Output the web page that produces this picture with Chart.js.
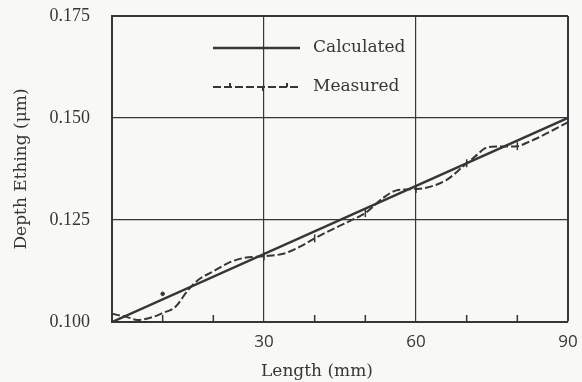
<!DOCTYPE html>
<html>
<head>
<meta charset="utf-8">
<script src="https://cdn.jsdelivr.net/npm/chart.js@4.4.0/dist/chart.umd.min.js"></script>
<style>
  html, body { margin: 0; padding: 0; background: #f8f8f6; }
  #wrap { width: 582px; height: 382px; }
</style>
</head>
<body>
<div id="wrap"><canvas id="depthChart" width="582" height="382"></canvas></div>
<script>
// Length along the sample (mm) and etching depth (um)
const calcLengths = [0, 90];
const calcDepths = [0.100, 0.150];

const measLengths = [0, 3, 5, 8, 10, 12.5, 15, 17, 20, 23, 26, 30, 34, 37, 40, 43, 47, 50, 53.5, 56, 60, 62, 66, 69, 70, 72, 73.5, 76, 80, 82, 84, 87, 90];
const measDepths = [0.1020, 0.1012, 0.1005, 0.1012, 0.1022, 0.1037, 0.1078, 0.1103, 0.1124, 0.1145, 0.1157, 0.1161, 0.1168, 0.1184, 0.1205, 0.1224, 0.1248, 0.1267, 0.1304, 0.1322, 0.1326, 0.1329, 0.1348, 0.1378, 0.1389, 0.1409, 0.1425, 0.1430, 0.1431, 0.1440, 0.1451, 0.1470, 0.1490];
const markedLengths = [30, 40, 50, 60, 70, 80];

const strayLengths = [10];
const strayDepths = [0.1069];

const xTickValues = [0, 30, 60, 90];
const yTickValues = [0.100, 0.125, 0.150, 0.175];
const minorTicks = [10, 20, 40, 50, 70, 80];

const ink = '#363636';

const overlay = {
  id: 'overlay',
  afterDatasetsDraw(chart) {
    const { ctx, chartArea } = chart;
    const x = chart.scales.x;
    ctx.save();
    ctx.strokeStyle = ink;
    ctx.lineWidth = 1.5;
    // small upward ticks on the length axis
    minorTicks.forEach(v => {
      const px = x.getPixelForValue(v);
      ctx.beginPath();
      ctx.moveTo(px, chartArea.bottom);
      ctx.lineTo(px, chartArea.bottom - 7);
      ctx.stroke();
    });

    // legend
    const lx0 = chartArea.left + 101, lx1 = chartArea.left + 188, tx = chartArea.left + 201;
    const y1 = chartArea.top + 32, y2 = chartArea.top + 71;
    ctx.lineWidth = 2.5;
    ctx.beginPath(); ctx.moveTo(lx0, y1); ctx.lineTo(lx1, y1); ctx.stroke();
    ctx.lineWidth = 2;
    ctx.setLineDash([8, 3]);
    ctx.beginPath(); ctx.moveTo(lx0, y2); ctx.lineTo(lx1, y2); ctx.stroke();
    ctx.setLineDash([]);
    [17, 50, 74].forEach((dx, i) => {
      ctx.beginPath();
      ctx.moveTo(lx0 + dx, y2);
      ctx.lineTo(lx0 + dx, i === 1 ? y2 + 4 : y2 - 4);
      ctx.stroke();
    });
    ctx.fillStyle = ink;
    ctx.font = '17px "DejaVu Serif"';
    ctx.textBaseline = 'middle';
    ctx.textAlign = 'left';
    ctx.fillText(chart.data.datasets[0].label, tx, y1);
    ctx.fillText(chart.data.datasets[1].label, tx, y2);

    // length axis title
    ctx.textAlign = 'center';
    ctx.fillText('Length (mm)', 317, 372);
    ctx.restore();
  }
};

new Chart(document.getElementById('depthChart'), {
  type: 'scatter',
  data: {
    datasets: [
      {
        label: 'Calculated',
        data: calcLengths.map((v, i) => ({ x: v, y: calcDepths[i] })),
        showLine: true,
        borderColor: ink,
        borderWidth: 2.5,
        pointRadius: 0
      },
      {
        label: 'Measured',
        data: measLengths.map((v, i) => ({ x: v, y: measDepths[i] })),
        showLine: true,
        cubicInterpolationMode: 'monotone',
        borderColor: ink,
        borderWidth: 2,
        borderDash: [8, 3],
        pointStyle: 'line',
        rotation: 90,
        pointBorderWidth: 1.5,
        pointBorderColor: ink,
        pointRadius: ctx => markedLengths.includes(measLengths[ctx.dataIndex]) ? 4 : 0
      },
      {
        label: 'stray',
        data: strayLengths.map((v, i) => ({ x: v, y: strayDepths[i] })),
        pointRadius: 1.8,
        backgroundColor: ink,
        borderColor: ink
      }
    ]
  },
  options: {
    responsive: false,
    animation: false,
    layout: { padding: { top: 16, right: 14, left: 0, bottom: 0 } },
    plugins: { legend: { display: false }, tooltip: { enabled: false } },
    scales: {
      x: {
        type: 'linear',
        min: 0,
        max: 90,
        afterBuildTicks: s => { s.ticks = xTickValues.map(v => ({ value: v })); },
        afterFit: s => { s.height = 60; s.paddingLeft = 0; s.paddingRight = 0; },
        border: { color: ink, width: 2 },
        grid: {
          color: ink,
          lineWidth: c => c.tick && c.tick.value === 90 ? 2 : 1.2,
          drawTicks: false
        },
        ticks: {
          padding: 10,
          color: ink,
          font: { family: '"Open Sans"', size: 17 },
          callback: v => v === 0 ? '' : String(v)
        }
      },
      y: {
        type: 'linear',
        min: 0.1,
        max: 0.175,
        afterBuildTicks: s => { s.ticks = yTickValues.map(v => ({ value: v })); },
        afterFit: s => { s.width = 112; s.paddingTop = 0; s.paddingBottom = 0; },
        border: { color: ink, width: 2 },
        grid: {
          color: ink,
          lineWidth: c => c.tick && c.tick.value === 0.175 ? 2 : 1.2,
          drawTicks: false
        },
        ticks: {
          padding: 22,
          color: ink,
          font: { family: '"Liberation Serif"', size: 18 },
          callback: v => Number(v).toFixed(3)
        },
        title: {
          display: true,
          text: 'Depth Ething (\u03bcm)',
          color: ink,
          font: { family: '"DejaVu Serif"', size: 17 },
          padding: { top: 11, bottom: 0 }
        }
      }
    }
  },
  plugins: [overlay]
});
</script>
</body>
</html>
